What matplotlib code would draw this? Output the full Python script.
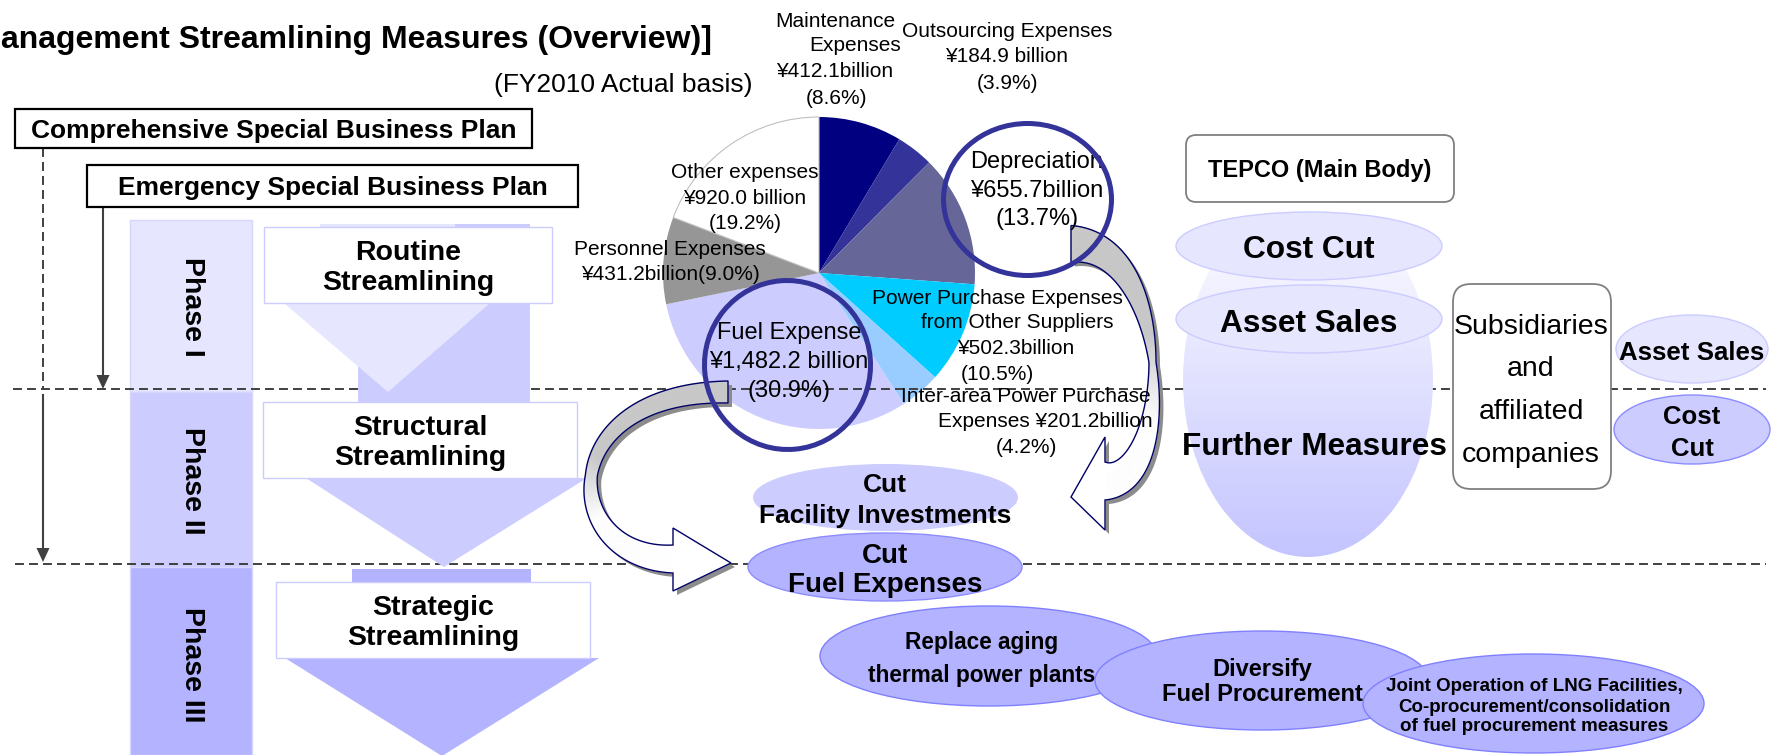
import numpy as np
import matplotlib
matplotlib.use('Agg')
import matplotlib.pyplot as plt
from matplotlib.patches import Rectangle, Polygon, Ellipse, FancyBboxPatch
from matplotlib.colors import to_rgb

plt.rcParams['font.family'] = ['Liberation Sans', 'DejaVu Sans']

# ---------------- data ----------------
pie_names = ["Maintenance Expenses", "Outsourcing Expenses", "Depreciation",
             "Power Purchase Expenses from Other Suppliers",
             "Inter-area Power Purchase Expenses", "Fuel Expense",
             "Personnel Expenses", "Other expenses"]
pie_values = [412.1, 184.9, 655.7, 502.3, 201.2, 1482.2, 431.2, 920.0]   # ¥ billion
pie_colors = ['#000080', '#333399', '#666699', '#00CCFF', '#99CCFF', '#CCCCFF', '#969696', '#FFFFFF']

phase_labels = ["Phase I", "Phase II", "Phase III"]
stage_labels = ["Routine\nStreamlining", "Structural\nStreamlining", "Strategic\nStreamlining"]
plan_labels = ["Comprehensive Special Business Plan", "Emergency Special Business Plan"]

W, H = 1776, 755
fig = plt.figure(figsize=(W / 100, H / 100), dpi=100)
ax = fig.add_axes([0, 0, 1, 1])

PX = 100 / 72.0


def txt(x, y, s, size, bold=False, z=10, ha='center', color='black', **kw):
    """y is the visual centre of capital letters."""
    yb = y + 0.358 * size * PX
    ax.text(x, yb, s, fontsize=size, fontweight='bold' if bold else 'normal',
            ha=ha, va='baseline', zorder=z, color=color, **kw)


def lines(x, ys, strs, size, bold=False, z=10, xs=None):
    for i, (y, s) in enumerate(zip(ys, strs)):
        txt(x if xs is None else xs[i], y, s, size, bold, z)


DASH = dict(color='#404040', lw=1.4, dashes=(4.6, 2.6))

# ---------------- title ----------------
txt(1, 37, "anagement Streamlining Measures (Overview)]", 23, bold=True, ha='left')
txt(623, 83, "(FY2010 Actual basis)", 19)

# ---------------- plan boxes ----------------
ax.add_patch(Rectangle((15, 109), 517, 39, fc='white', ec='black', lw=1.6, zorder=5))
txt(273.5, 128.5, plan_labels[0], 19, bold=True)
ax.add_patch(Rectangle((87, 165), 491, 42, fc='white', ec='black', lw=1.6, zorder=5))
txt(332.5, 186, plan_labels[1], 19, bold=True)

# vertical arrows
ax.plot([43, 43], [148, 389], zorder=2, **DASH)
ax.plot([43, 43], [395, 549], color='#404040', lw=1.5, zorder=2)
ax.add_patch(Polygon([(36.5, 548), (49.5, 548), (43, 562)], closed=True, fc='#404040', ec='none', zorder=2))
ax.plot([103, 103], [207, 377], color='#404040', lw=1.5, zorder=2)
ax.add_patch(Polygon([(96.5, 375), (109.5, 375), (103, 389)], closed=True, fc='#404040', ec='none', zorder=2))

# ---------------- phase columns ----------------
ph_cols = ['#E6E6FF', '#CCCCFF', '#B3B3FF']
ph_y = [(220, 392), (392, 567), (567, 755)]
ph_ty = [307, 481, 665]
for (y0, y1), c, lab, ty in zip(ph_y, ph_cols, phase_labels, ph_ty):
    ax.add_patch(Rectangle((130, y0), 122, y1 - y0, fc=c, ec='#D6D6FF', lw=1, zorder=1))
    ax.text(192, ty, lab, fontsize=20.5, fontweight='bold', rotation=270,
            ha='center', va='center', zorder=10)

# ---------------- stage arrows ----------------
# structural shaft behind routine arrow
ax.add_patch(Rectangle((358, 224), 172, 178, fc='#CCCCFF', ec='none', zorder=3))
# routine arrow (light)
ax.add_patch(Rectangle((320, 224), 135, 82, fc='#E6E6FF', ec='none', zorder=3.2))
ax.add_patch(Polygon([(285, 304), (489, 304), (388, 392)], closed=True, fc='#E6E6FF', ec='none', zorder=3.2))
ax.add_patch(Rectangle((264, 227), 288, 76, fc='white', ec='#CCCCFF', lw=1, zorder=3.5))
lines(408, [250, 280], stage_labels[0].split('\n'), 20.5, bold=True)

# structural
ax.add_patch(Polygon([(306, 478), (587, 478), (444, 567)], closed=True, fc='#CCCCFF', ec='none', zorder=3.2))
ax.add_patch(Rectangle((263, 402), 314, 76, fc='white', ec='#CCCCFF', lw=1, zorder=3.5))
lines(420, [425, 455], stage_labels[1].split('\n'), 20.5, bold=True)

# strategic
ax.add_patch(Rectangle((352, 569), 179, 14, fc='#B3B3FF', ec='none', zorder=3.2))
ax.add_patch(Polygon([(285, 658), (599, 658), (442, 756)], closed=True, fc='#B3B3FF', ec='none', zorder=3.2))
ax.add_patch(Rectangle((276, 582), 314, 76, fc='white', ec='#CCCCFF', lw=1, zorder=3.5))
lines(433, [605, 635], stage_labels[2].split('\n'), 20.5, bold=True)

# ---------------- dashed separators ----------------
ax.plot([13, 1766], [389, 389], zorder=2, **DASH)
ax.plot([15, 1766], [564, 564], zorder=2, **DASH)

# ---------------- pie ----------------
wedges, _ = ax.pie(pie_values, colors=pie_colors, startangle=-90, counterclock=True,
                   center=(819, 273), radius=156, frame=True,
                   wedgeprops=dict(linewidth=0, zorder=1.5))
wedges[-1].set_edgecolor('#C0C0C0')
wedges[-1].set_linewidth(0.8)

# pie labels
lines(0, [20, 44, 70, 97], ["Maintenance", "Expenses", "¥412.1billion", "(8.6%)"], 15,
      xs=[835, 855, 835, 836])
lines(1007, [30, 55, 82], ["Outsourcing Expenses", "¥184.9 billion", "(3.9%)"], 15)
lines(745, [171, 197, 222], ["Other expenses", "¥920.0 billion", "(19.2%)"], 15)
lines(670, [248, 273], ["Personnel Expenses", "¥431.2billion(9.0%)"], 15)
lines(1037, [160, 189, 217], ["Depreciation", "¥655.7billion", "(13.7%)"], 17)
lines(789, [331, 360, 389], ["Fuel Expense", "¥1,482.2 billion", "(30.9%)"], 17)
lines(0, [297, 321, 347, 373], ["Power Purchase Expenses", "from Other Suppliers", "¥502.3billion", "(10.5%)"], 15,
      xs=[997, 1017, 1016, 997])
lines(0, [395, 420, 446], ["Inter-area Power Purchase", "Expenses ¥201.2billion", "(4.2%)"], 15,
      xs=[1026, 1045, 1026])

# rings
ax.add_patch(Ellipse((1027.5, 199.5), 168, 152, fill=False, ec='#333399', lw=3.6, zorder=11))
ax.add_patch(Ellipse((787.5, 365), 166, 169, angle=-5, fill=False, ec='#333399', lw=3.6, zorder=11))


# ---------------- curved block arrows ----------------
def bez(P, t):
    P = np.asarray(P, float)
    t = t[:, None]
    return ((1 - t) ** 3) * P[0] + 3 * ((1 - t) ** 2) * t * P[1] + 3 * (1 - t) * t ** 2 * P[2] + t ** 3 * P[3]


def dbez(P, t):
    P = np.asarray(P, float)
    t = t[:, None]
    return 3 * ((1 - t) ** 2) * (P[1] - P[0]) + 6 * (1 - t) * t * (P[2] - P[1]) + 3 * t ** 2 * (P[3] - P[2])


def curved_arrow(P, widths, head, z, shadow=(4, 4)):
    t = np.linspace(0, 1, 160)
    B = bez(P, t)
    D = dbez(P, t)
    T = D / np.linalg.norm(D, axis=1)[:, None]
    N = np.column_stack([-T[:, 1], T[:, 0]])
    w = np.interp(t, [0, 0.5, 1], widths)
    L = B + N * (w / 2)[:, None]
    R = B - N * (w / 2)[:, None]
    hl, hwL, hwR, toff = head
    P3, Te, Ne = B[-1], T[-1], N[-1]
    barbL = P3 + Ne * hwL
    barbR = P3 - Ne * hwR
    tip = P3 + Te * hl + Ne * toff
    outline = np.vstack([L, barbL, tip, barbR, R[::-1]])
    ax.add_patch(Polygon(outline + np.array(shadow), closed=True, fc='#8C8C8C', ec='none', zorder=z - 0.2))
    g0 = np.array(to_rgb('#C8C8C8'))
    g1 = np.array(to_rgb('#FFFFFF'))
    for i in range(len(t) - 1):
        f = np.clip((t[i] - 0.42) / 0.25, 0, 1)
        c = g0 + (g1 - g0) * f
        ax.add_patch(Polygon([L[i], L[i + 1], R[i + 1], R[i]], closed=True, fc=c, ec=c, lw=0.6, zorder=z))
    ax.add_patch(Polygon([L[-1], barbL, tip, barbR, R[-1]], closed=True, fc='white', ec='white', lw=0.6, zorder=z))
    ax.add_patch(Polygon(outline, closed=True, fill=False, ec='#000066', lw=1.0, zorder=z + 0.1))


curved_arrow([(728, 392), (550, 392), (560, 559), (673, 559)], (22, 12, 28), (58, 32, 31, 4), z=7)
curved_arrow([(1071, 244), (1172, 244), (1176, 481), (1105, 481)], (37, 7, 38), (34, 44, 49, -16), z=7)

# ---------------- measure ellipses ----------------
ax.add_patch(Ellipse((885.5, 497.5), 265, 67, fc='#CCCCFF', ec='none', zorder=4))
lines(885, [483, 514], ["Cut", "Facility Investments"], 19, bold=True)
ax.add_patch(Ellipse((885, 567), 274, 68, fc='#B3B3FF', ec='#8C8CFF', lw=1, zorder=4))
lines(885, [553, 582], ["Cut", "Fuel Expenses"], 20, bold=True)

ax.add_patch(Ellipse((988.5, 656), 337, 100, fc='#B3B3FF', ec='#8080FF', lw=1, zorder=4))
lines(982, [641, 674], ["Replace aging", "thermal power plants"], 16.3, bold=True)
ax.add_patch(Ellipse((1262, 680.5), 334, 99, fc='#B3B3FF', ec='#8080FF', lw=1, zorder=4.2))
lines(1262, [668, 693], ["Diversify", "Fuel Procurement"], 17, bold=True)
ax.add_patch(Ellipse((1533.5, 703.5), 341, 99, fc='#B3B3FF', ec='#8080FF', lw=1, zorder=4.4))
lines(1534, [684, 705, 724], ["Joint Operation of LNG Facilities,", "Co-procurement/consolidation",
                              "of fuel procurement measures"], 13.5, bold=True)

# ---------------- right side ----------------
ax.add_patch(FancyBboxPatch((1186, 135), 268, 67, boxstyle='round,pad=0,rounding_size=10',
                            fc='white', ec='#808080', lw=1.3, zorder=5))
txt(1320, 169, "TEPCO (Main Body)", 17, bold=True)

grad = np.linspace(0, 1, 256)[:, None, None]
c_top = np.array(to_rgb('#FFFFFF'))
c_bot = np.array(to_rgb('#C4C4FF'))
img = c_top + (c_bot - c_top) * grad
im = ax.imshow(img, extent=(1183, 1433, 557, 203), origin='upper', aspect='auto',
               interpolation='bilinear', zorder=3)
clip = Ellipse((1308, 380), 250, 354, transform=ax.transData)
im.set_clip_path(clip)

ax.add_patch(Ellipse((1309, 246), 266, 68, fc='#E6E6FF', ec='#CCCCFF', lw=1, zorder=4))
txt(1309, 247, "Cost Cut", 22.8, bold=True)
ax.add_patch(Ellipse((1309, 319), 266, 68, fc='#E6E6FF', ec='#CCCCFF', lw=1, zorder=4))
txt(1309, 321, "Asset Sales", 22.8, bold=True)
txt(1314, 444, "Further Measures", 22.7, bold=True)

ax.add_patch(FancyBboxPatch((1453, 284), 158, 205, boxstyle='round,pad=0,rounding_size=18',
                            fc='white', ec='#808080', lw=1.3, zorder=5))
lines(1531, [324, 366, 409, 452], ["Subsidiaries", "and", "affiliated", "companies"], 20.5)

ax.add_patch(Ellipse((1692, 349), 152, 68, fc='#E6E6FF', ec='#CCCCFF', lw=1, zorder=4))
txt(1692, 351, "Asset Sales", 18.6, bold=True)
ax.add_patch(Ellipse((1692, 429.5), 156, 69, fc='#CCCCFF', ec='#8C8CFF', lw=1, zorder=4))
lines(1692, [415, 447], ["Cost", "Cut"], 18.5, bold=True)

ax.set_xlim(0, W)
ax.set_ylim(H, 0)
ax.set_aspect('auto')
ax.axis('off')
fig.savefig('out.png', dpi=100, facecolor='white')
